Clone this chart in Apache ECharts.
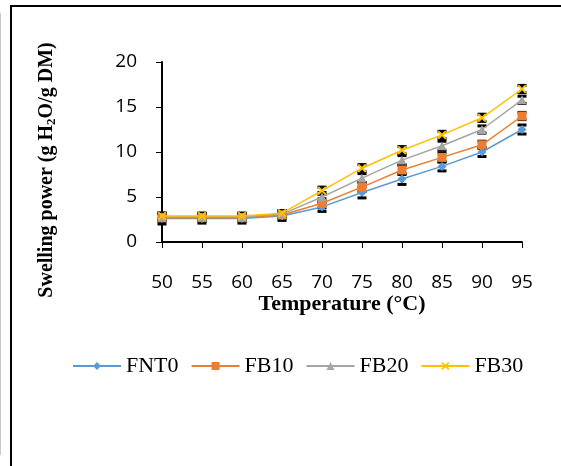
<!DOCTYPE html>
<html><head><meta charset="utf-8">
<script src="https://cdn.jsdelivr.net/npm/echarts@6/dist/echarts.min.js"></script>
<style>html,body{margin:0;padding:0;background:#fff}#c{width:561px;height:466px}</style>
</head><body><div id="c"></div>
<script>
const categories = ['50','55','60','65','70','75','80','85','90','95'];
const seriesNames = ['FNT0','FB10','FB20','FB30'];
const FNT0 = [2.6, 2.6, 2.6, 2.9, 3.9, 5.5, 7.0, 8.4, 10.0, 12.5];
const FB10 = [2.7, 2.7, 2.7, 3.0, 4.3, 6.1, 8.0, 9.4, 10.8, 14.0];
const FB20 = [2.8, 2.8, 2.8, 3.1, 5.0, 7.1, 9.1, 10.7, 12.5, 15.8];
const FB30 = [2.9, 2.9, 2.9, 3.2, 5.7, 8.2, 10.2, 11.9, 13.8, 17.0];
const errFNT0 = [0.6, 0.5, 0.5, 0.5, 0.5, 0.6, 0.6, 0.5, 0.5, 0.5];
const errFB10 = [0.4, 0.4, 0.4, 0.4, 0.5, 0.5, 0.5, 0.5, 0.4, 0.4];
const errFB20 = [0.4, 0.4, 0.4, 0.4, 0.5, 0.5, 0.5, 0.5, 0.4, 0.4];
const errFB30 = [0.3, 0.3, 0.3, 0.3, 0.4, 0.4, 0.4, 0.4, 0.4, 0.4];
const yTicks = [0, 5, 10, 15, 20];

const colors = ['#5B9BD5', '#ED7D31', '#A5A5A5', '#FFC000'];
const values = [FNT0, FB10, FB20, FB30];
const errs = [errFNT0, errFB10, errFB20, errFB30];
const xPath = 'path://M0,1.5L1.5,0L5,3.5L8.5,0L10,1.5L6.5,5L10,8.5L8.5,10L5,6.5L1.5,10L0,8.5L3.5,5Z';
const symbols = ['diamond', 'rect', 'triangle', xPath];
const symSizes = [9, 9, 9, 9];

const chart = echarts.init(document.getElementById('c'), null, {renderer: 'canvas'});
const series = [];
values.forEach((v, i) => {
  series.push({
    type: 'custom', name: seriesNames[i] + '_err', z: 2, silent: true,
    data: v.map((y, k) => [k, y, errs[i][k]]),
    renderItem: function (params, api) {
      const x = api.value(0), y = api.value(1), e = api.value(2);
      const lo = api.coord([x, y - e]), hi = api.coord([x, y + e]);
      const w = 4.5;
      const st = {stroke: '#000', lineWidth: 2};
      const cap = {stroke: '#000', lineWidth: 3};
      return {type: 'group', children: [
        {type: 'line', shape: {x1: lo[0], y1: lo[1], x2: hi[0], y2: hi[1]}, style: st},
        {type: 'line', shape: {x1: lo[0] - w, y1: lo[1], x2: lo[0] + w, y2: lo[1]}, style: cap},
        {type: 'line', shape: {x1: hi[0] - w, y1: hi[1], x2: hi[0] + w, y2: hi[1]}, style: cap}
      ]};
    }
  });
});
values.forEach((v, i) => {
  series.push({
    type: 'line', name: seriesNames[i], data: v, z: 3 + i,
    symbol: symbols[i], symbolSize: symSizes[i], showAllSymbol: true,
    lineStyle: {color: colors[i], width: 1.5},
    itemStyle: {color: colors[i], borderWidth: 0},
    emphasis: {disabled: true}
  });
});

chart.setOption({
  animation: false,
  backgroundColor: '#fff',
  grid: {left: 162, top: 62, width: 360, height: 180, containLabel: false},
  legend: {
    data: seriesNames, left: 67, top: 350, itemWidth: 48, itemHeight: 10, itemGap: 12,
    textStyle: {fontFamily: 'Liberation Serif', fontSize: 22, color: '#000'}
  },
  xAxis: {
    type: 'category', data: categories, boundaryGap: false,
    name: 'Temperature (°C)', nameLocation: 'middle', nameGap: 44,
    nameTextStyle: {fontFamily: 'Liberation Serif', fontWeight: 'bold', fontSize: 22, color: '#000'},
    axisLine: {lineStyle: {color: '#000', width: 2}},
    axisTick: {show: true, inside: false, length: 6, alignWithLabel: true, lineStyle: {color: '#000', width: 1}},
    axisLabel: {margin: 31, fontFamily: 'Open Sans', fontSize: 19, color: '#000', interval: 0},
    splitLine: {show: false}
  },
  yAxis: {
    type: 'value', min: yTicks[0], max: yTicks[yTicks.length - 1], interval: 5,
    name: '{a|Swelling power (g H}{s|2}{a|O/g DM)}', nameLocation: 'middle', nameGap: 104, nameRotate: 90,
    nameTextStyle: {
      padding: [0, 36, 0, 0],
      rich: {
        a: {fontFamily: 'Liberation Serif', fontWeight: 'bold', fontSize: 20, color: '#000'},
        s: {fontFamily: 'Liberation Serif', fontWeight: 'bold', fontSize: 13, color: '#000', verticalAlign: 'bottom', padding: [9, 0, 0, 0]}
      }
    },
    axisLine: {show: true, lineStyle: {color: '#000', width: 2}},
    axisTick: {show: true, inside: false, length: 6, lineStyle: {color: '#000', width: 1}},
    axisLabel: {margin: 25, fontFamily: 'Open Sans', fontSize: 19, color: '#000'},
    splitLine: {show: false}
  },
  graphic: [
    {type: 'line', shape: {x1: 11, y1: 6, x2: 561, y2: 6}, style: {stroke: '#000', lineWidth: 2}},
    {type: 'line', shape: {x1: 11, y1: 5, x2: 11, y2: 466}, style: {stroke: '#000', lineWidth: 2}},
    {type: 'line', shape: {x1: 0.5, y1: 13, x2: 0.5, y2: 455}, style: {stroke: '#c8c8c8', lineWidth: 1}}
  ],
  series: series
});
</script></body></html>
